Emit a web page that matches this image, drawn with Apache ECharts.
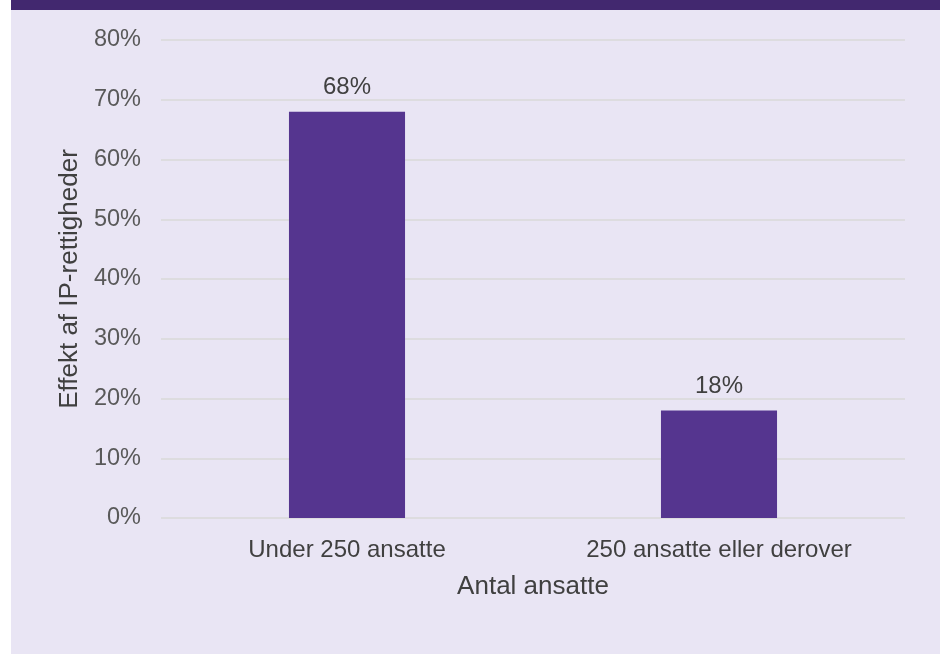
<!DOCTYPE html>
<html>
<head>
<meta charset="utf-8">
<script src="https://cdn.jsdelivr.net/npm/echarts@6/dist/echarts.min.js"></script>
<style>
html,body{margin:0;padding:0;background:#ffffff;}
#wrap{position:absolute;left:11px;top:0;width:929px;height:654px;background:#E9E5F4;}
#band{position:absolute;left:0;top:0;width:929px;height:10px;background:#42286F;}
#chart{position:absolute;left:0;top:0;width:929px;height:654px;}
</style>
</head>
<body>
<div id="wrap"><div id="chart"></div><div id="band"></div></div>
<script>
const categories = ['Under 250 ansatte', '250 ansatte eller derover'];
const values = [68, 18];
const yTicks = [0, 10, 20, 30, 40, 50, 60, 70, 80];
const xAxisName = 'Antal ansatte';
const yAxisName = 'Effekt af IP-rettigheder';

const chart = echarts.init(document.getElementById('chart'));
chart.setOption({
  backgroundColor: 'transparent',
  animation: false,
  grid: {left: 150, right: 35, top: 40, bottom: 136, containLabel: false},
  xAxis: {
    type: 'category',
    data: categories,
    name: xAxisName,
    nameLocation: 'middle',
    nameGap: 56,
    nameTextStyle: {fontFamily: 'Liberation Sans', fontSize: 26, color: '#404040'},
    axisLine: {show: false},
    axisTick: {show: false},
    axisLabel: {fontFamily: 'Liberation Sans', fontSize: 24, color: '#404040', margin: 20}
  },
  yAxis: {
    type: 'value',
    min: 0, max: 80, interval: 10,
    name: yAxisName,
    nameLocation: 'middle',
    nameGap: 78,
    nameRotate: 90,
    nameTextStyle: {fontFamily: 'Liberation Sans', fontSize: 26, color: '#404040'},
    axisLine: {show: false},
    axisTick: {show: false},
    splitLine: {lineStyle: {color: '#D9D9D9', width: 1.5}},
    axisLabel: {fontFamily: 'Liberation Sans', fontSize: 23.5, color: '#595959', margin: 20,
      formatter: v => yTicks.includes(v) ? v + '%' : ''}
  },
  series: [{
    type: 'bar',
    data: values,
    barWidth: '31.2%',
    itemStyle: {color: '#55358F'},
    label: {show: true, position: 'top', distance: 12, formatter: p => p.value + '%',
      fontFamily: 'Liberation Sans', fontSize: 24, color: '#404040'}
  }]
});
</script>
</body>
</html>
